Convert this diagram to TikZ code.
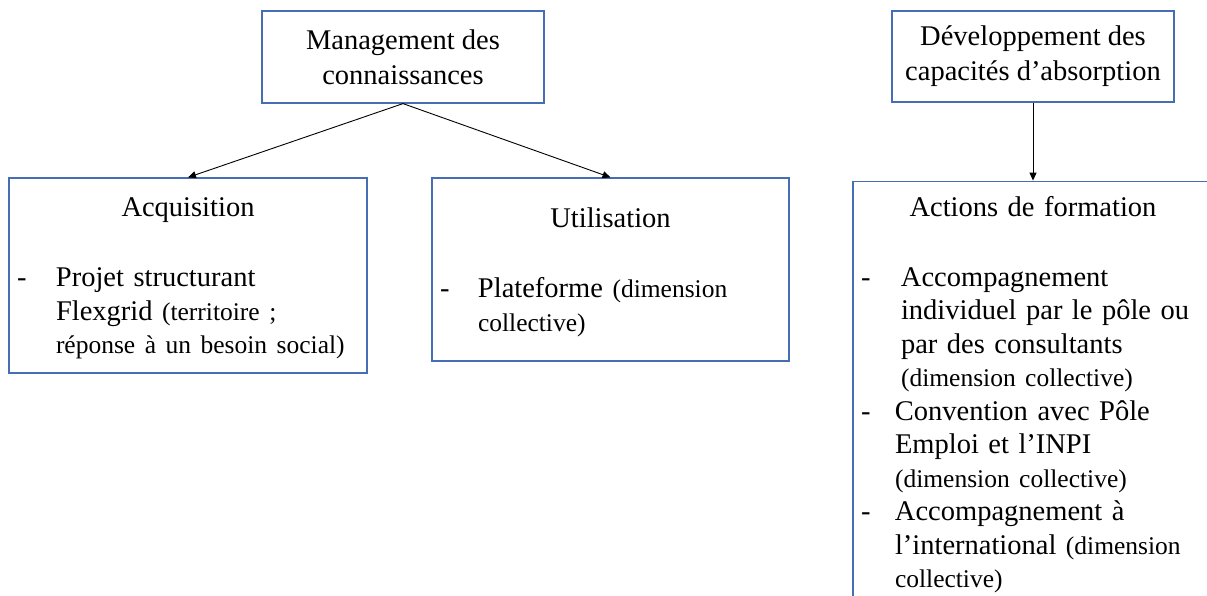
\documentclass[tikz,border=0pt]{standalone}
\usepackage{fontspec}
\setmainfont{Liberation Serif}
\usetikzlibrary{positioning, arrows.meta}

\definecolor{boxblue}{RGB}{70,110,180}
\newcommand{\petit}{\fontsize{25.5}{33.5}\selectfont}
\newcommand{\tiret}[2][39pt]{\par\noindent\hangindent=#1\hangafter=1\makebox[#1][l]{-}#2\par}

\begin{document}
\begin{tikzpicture}[
  x=1pt, y=-1pt,
  headbox/.style={rectangle, draw=boxblue, line width=1.2pt, minimum width=282pt, minimum height=92pt, inner sep=0pt, align=center, font=\fontsize{28.5}{35}\selectfont},
  listbox/.style={rectangle, draw=boxblue, line width=1.2pt, inner sep=0pt},
  content/.style={anchor=north, inner sep=0pt, align=left, font=\fontsize{28.5}{33.5}\selectfont},
  arr/.style={-{Triangle[length=8pt, width=7pt]}, line width=0.9pt}
]
\useasboundingbox (0,0) rectangle (1207,596);
\clip (0,0) rectangle (1207,596);

% top boxes
\node[headbox] (mgmt) at (403,57) {Management des\\connaissances};
\node[headbox, minimum height=91pt] (dev) at (1033,56.5) {Développement des\\capacités d’absorption};

% lower boxes
\node[listbox, minimum width=358pt, minimum height=195pt] (acq) at (188,275.5) {};
\node[listbox, minimum width=357pt, minimum height=183pt] (util) at (610.5,269.5) {};
\node[listbox, minimum width=360pt, minimum height=440pt, below=78pt of dev] (form) {};

% box contents
\node[content, text width=342pt, below=20.5pt of acq.north] (acqtxt) {%
  {\centering Acquisition\par}\vspace{36.5pt}
  \tiret{Projet structurant\newline Flexgrid {\petit(territoire ;}\newline{\petit réponse à un besoin social)}}};
\node[content, text width=341pt, below=30.5pt of util.north] (utiltxt) {%
  {\centering Utilisation\par}\vspace{36.5pt}
  \tiret[38pt]{Plateforme {\petit(dimension\newline collective)}}};
\node[content, text width=344pt, below=15.5pt of form.north] (formtxt) {%
  {\centering Actions de formation\par}\vspace{36.5pt}
  \tiret[40pt]{Accompagnement\newline individuel par le pôle ou\newline par des consultants\newline{\petit(dimension collective)}}
  \tiret[34pt]{Convention avec Pôle\newline Emploi et l’INPI\newline{\petit(dimension collective)}}
  \tiret[34pt]{Accompagnement à\newline l’international {\petit(dimension\newline collective)}}};

\draw[arr] (mgmt.south) -- (acq.north);
\draw[arr] (mgmt.south) -- (util.north);
\draw[arr] (dev.south) -- (form.north);

\end{tikzpicture}
\end{document}
